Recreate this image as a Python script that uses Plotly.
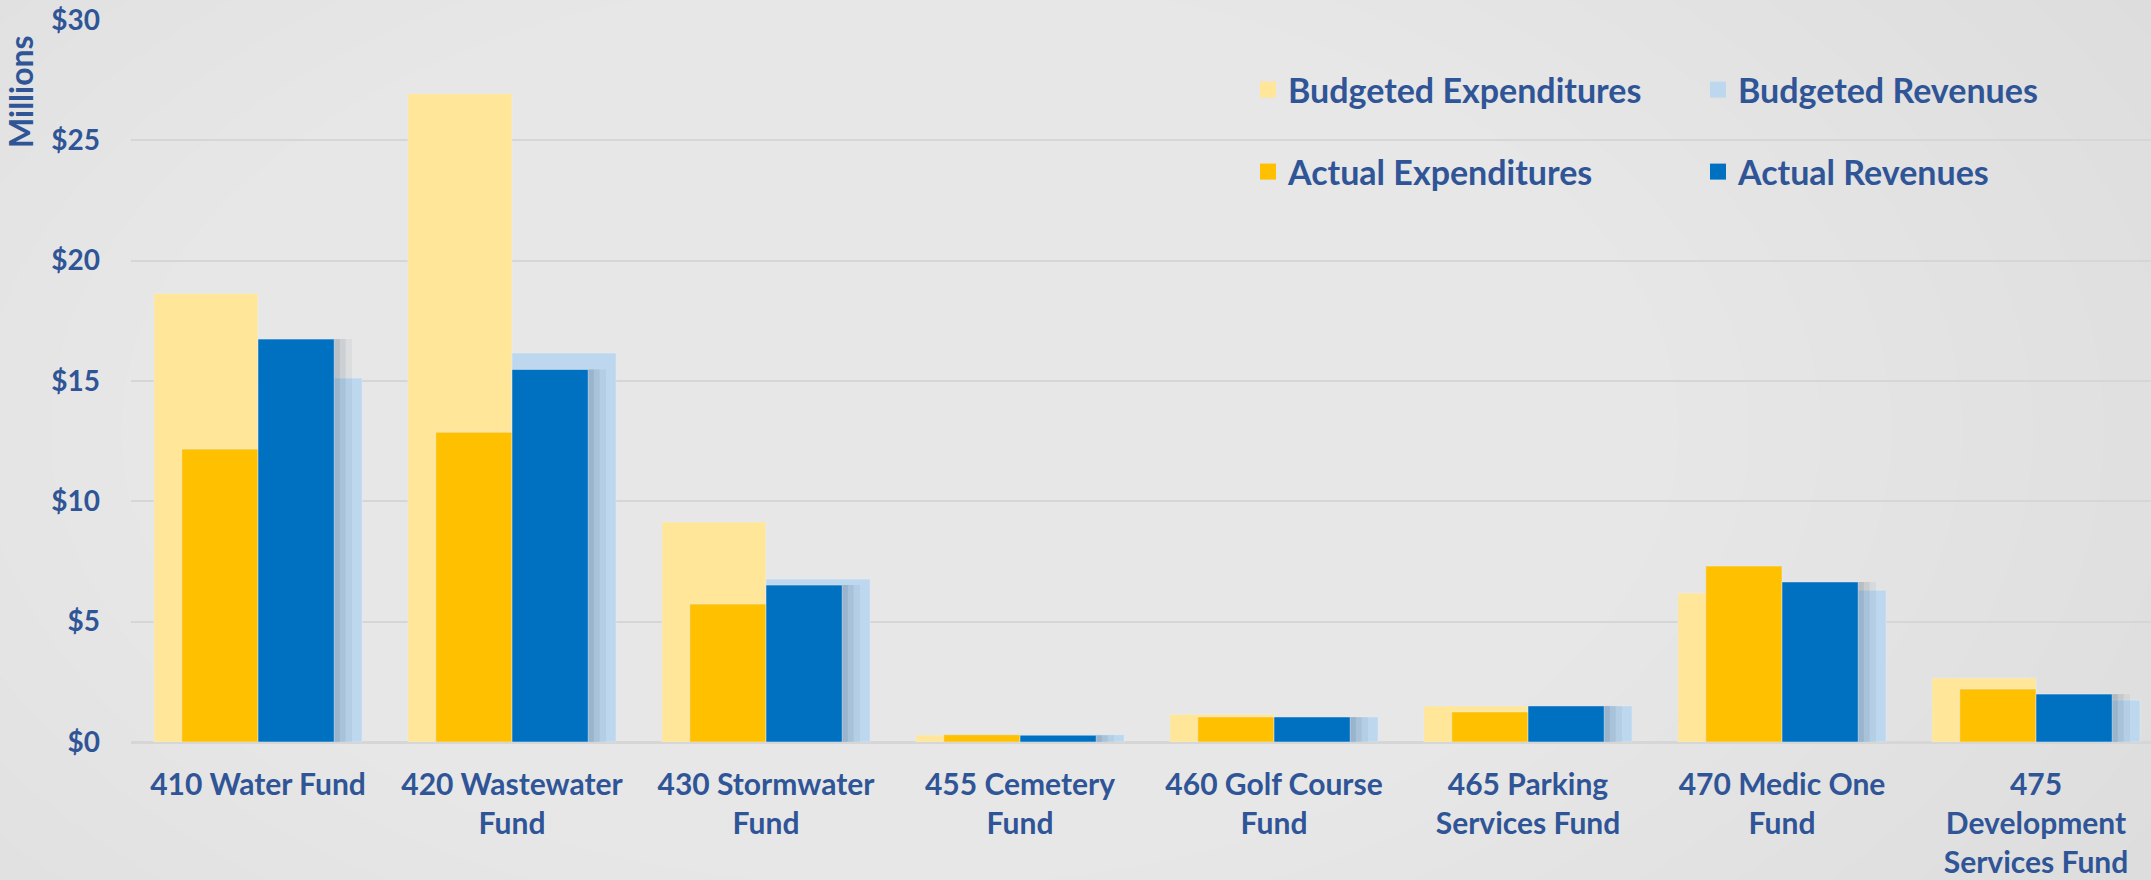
import plotly.graph_objects as go

# Funds (x categories) and values in $ millions
funds = ["410 Water Fund", "420 Wastewater<br>Fund", "430 Stormwater<br>Fund",
         "455 Cemetery<br>Fund", "460 Golf Course<br>Fund", "465 Parking<br>Services Fund",
         "470 Medic One<br>Fund", "475<br>Development<br>Services Fund"]

budgeted_exp = [18.64, 26.94, 9.14, 0.29, 1.15, 1.50, 6.19, 2.66]
actual_exp = [12.17, 12.87, 5.73, 0.30, 1.04, 1.25, 7.31, 2.20]
actual_rev = [16.74, 15.48, 6.52, 0.28, 1.04, 1.50, 6.65, 1.99]
budgeted_rev = [15.12, 16.16, 6.77, 0.30, 1.04, 1.50, 6.31, 1.74]

y_ticks = [0, 5, 10, 15, 20, 25, 30]

TXT = "#2F5597"
W, H = 2151, 880
ML, MT, MB = 131, 20, 138
PW, PH = W - ML, H - MT - MB
FONT = "Lato"


def px_x(p):  # page pixel -> paper x
    return (p - ML) / PW


def px_y(p):  # page pixel -> paper y
    return (H - MB - p) / PH


fig = go.Figure()

# wide (budget) bars go behind, narrow (actual) bars on top
fig.add_trace(go.Bar(x=funds, y=budgeted_exp, name="Budgeted Expenditures",
                     marker_color="#FFE699", offset=-0.41, width=0.41, showlegend=False))
fig.add_trace(go.Bar(x=funds, y=budgeted_rev, name="Budgeted Revenues",
                     marker_color="#BDD7EE", offset=0, width=0.41, showlegend=False))
# soft drop shadow right of the actual revenue bars
for w, a in [(0.07, 0.06), (0.045, 0.08), (0.022, 0.10)]:
    fig.add_trace(go.Bar(x=funds, y=actual_rev, offset=0.30, width=w, hoverinfo="skip",
                         marker=dict(color="rgba(40,60,90,%.2f)" % a, line_width=0),
                         showlegend=False))
fig.add_trace(go.Bar(x=funds, y=actual_exp, name="Actual Expenditures",
                     marker_color="#FFC000", offset=-0.30, width=0.30, showlegend=False))
fig.add_trace(go.Bar(x=funds, y=actual_rev, name="Actual Revenues",
                     marker_color="#0070C0", offset=0, width=0.30, showlegend=False))

# legend entries (one legend box each, placed like the original 2x2 grid)
leg = [("Budgeted Expenditures", "#FFE699", "legend", 1248, 90),
       ("Budgeted Revenues", "#BDD7EE", "legend2", 1698, 90),
       ("Actual Expenditures", "#FFC000", "legend3", 1248, 172),
       ("Actual Revenues", "#0070C0", "legend4", 1698, 172)]
for name, col, lg, px, py in leg:
    fig.add_trace(go.Scatter(x=[None], y=[None], mode="markers", name=name, legend=lg,
                             marker=dict(symbol="square", size=20, color=col)))
    fig.update_layout({lg: dict(x=px_x(px), y=px_y(py),
                                xanchor="left", yanchor="middle", bgcolor="rgba(0,0,0,0)",
                                font=dict(family=FONT, size=34, color=TXT, weight="bold"),
                                itemsizing="trace")})

# soft radial light in the background (stacked translucent ellipses)
shapes = []
cx, cy = 900, 430
n = 24
for i in range(n):
    k = 1 - i / n
    rx, ry = 1700 * k, 1000 * k
    shapes.append(dict(type="circle", xref="paper", yref="paper", layer="below",
                       x0=px_x(cx - rx), x1=px_x(cx + rx), y0=px_y(cy + ry), y1=px_y(cy - ry),
                       fillcolor="white", opacity=0.04, line=dict(width=0)))

fig.update_layout(
    width=W, height=H,
    margin=dict(l=ML, r=0, t=MT, b=MB, autoexpand=False),
    barmode="overlay",
    paper_bgcolor="#d9d9d9",
    plot_bgcolor="rgba(0,0,0,0)",
    font=dict(family=FONT, color=TXT),
    shapes=shapes,
    xaxis=dict(range=[-0.5, -0.5 + PW / 254], showgrid=False, zeroline=False,
               showline=False, ticks="", ticklabelstandoff=22, tickangle=0,
               tickfont=dict(family=FONT, size=30, color=TXT, weight="bold")),
    yaxis=dict(range=[0, 30], tickvals=y_ticks, ticktext=["$" + str(v) for v in y_ticks],
               showgrid=True, gridcolor="#d6d6d6", gridwidth=2,
               zeroline=True, zerolinecolor="#d6d6d6", zerolinewidth=3,
               ticks="", ticklabelstandoff=30,
               tickfont=dict(family=FONT, size=28, color=TXT, weight="bold")),
    annotations=[dict(text="Millions", textangle=-90, showarrow=False,
                      xref="paper", yref="paper", x=px_x(20), y=px_y(92),
                      xanchor="center", yanchor="middle",
                      font=dict(family=FONT, size=32, color=TXT, weight="bold"))],
)

fig.write_html("out.html", config={"displayModeBar": False},
               post_script="document.body.style.margin='0';")
